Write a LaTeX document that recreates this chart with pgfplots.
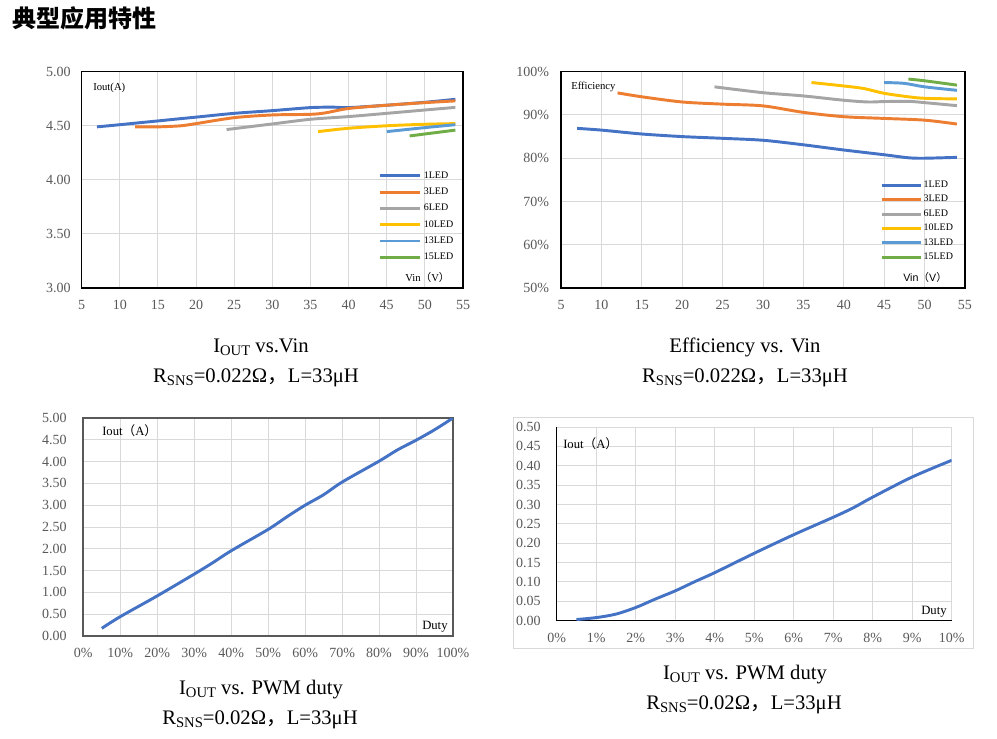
\documentclass[border=0pt]{standalone}
\usepackage{fontspec}
\setmainfont{Liberation Serif}
\newfontfamily\cjk{Noto Sans CJK SC}
\newfontfamily\sans{Liberation Sans}
\usepackage{pgfplots}
\pgfplotsset{compat=1.18}
\definecolor{cA}{HTML}{4472C4}
\definecolor{cB}{HTML}{ED7D31}
\definecolor{cC}{HTML}{A5A5A5}
\definecolor{cD}{HTML}{FFC000}
\definecolor{cE}{HTML}{5B9BD5}
\definecolor{cF}{HTML}{70AD47}
\definecolor{gridc}{HTML}{D9D9D9}
\definecolor{tickc}{HTML}{595959}
\newcommand{\FS}[1]{\fontsize{#1}{#1}\selectfont}
\newcommand{\sub}[1]{\raisebox{-0.12em}{\FS{11}#1}}
\pgfplotsset{
  base/.style={scale only axis, anchor=north west, major tick length=0pt,
    grid=major, major grid style={color=gridc, line width=0.75pt},
    ticklabel style={font=\FS{10.5}, text=tickc},
    /pgf/number format/assume math mode=true,
    xticklabel style={yshift=-5.8pt},
    every axis plot/.append style={line width=2.2pt, smooth, no markers},
    legend cell align=left},
  y2/.style={yticklabel style={/pgf/number format/fixed, /pgf/number format/fixed zerofill, /pgf/number format/precision=2}},
}
\begin{document}
\begin{tikzpicture}
\path[use as bounding box] (0,0) rectangle (997*0.75pt,-739*0.75pt);
\node[anchor=west, inner sep=0pt, font=\cjk\bfseries\FS{18}] at (12*0.75pt,-18*0.75pt) {典型应用特性};

% Chart 1
\begin{axis}[base, y2, at={(81.7*0.75pt,-71.7*0.75pt)}, width=381.3*0.75pt, height=216.3*0.75pt,
  xmin=5, xmax=55, ymin=3, ymax=5, xtick={5,10,...,55}, ytick={3,3.5,4,4.5,5},
  yticklabel style={xshift=-4.8pt},
  axis line style={black, line width=1.1pt},
  legend style={at={(0.777,0.557)}, anchor=north west, draw=none, fill=none, inner sep=0pt,
    row sep=0pt, column sep=2pt, font=\FS{7.5}, nodes={inner sep=0pt, minimum height=12.2pt}},
  legend image code/.code={\draw[#1] (0pt,0pt) -- (30pt,0pt);}]
\addplot[cA] coordinates {(7,4.49)(10,4.51)(15,4.545)(20,4.58)(25,4.615)(30,4.64)(35,4.668)(38,4.672)(40,4.668)(45,4.69)(50,4.717)(54,4.745)};
\addplot[cB] coordinates {(12,4.49)(15,4.49)(18,4.50)(20,4.52)(25,4.575)(30,4.60)(35,4.606)(37,4.62)(40,4.66)(45,4.69)(50,4.714)(54,4.73)};
\addplot[cC] coordinates {(24,4.465)(30,4.517)(35,4.56)(40,4.585)(45,4.615)(50,4.646)(54,4.67)};
\addplot[cD] coordinates {(36,4.446)(40,4.477)(45,4.50)(50,4.514)(54,4.52)};
\addplot[cE] coordinates {(45,4.446)(50,4.483)(54,4.51)};
\addplot[cF] coordinates {(48,4.406)(54,4.46)};
\legend{1LED,3LED,6LED,10LED,13LED,15LED}
\end{axis}
\node[anchor=west, inner sep=0pt, font=\FS{8}] at (93*0.75pt,-88*0.75pt) {Iout(A)};
\node[anchor=west, inner sep=0pt, font=\FS{8}] at (405*0.75pt,-277*0.75pt) {Vin{\cjk （}V{\cjk ）}};

% Chart 2
\begin{axis}[base, at={(561*0.75pt,-71.7*0.75pt)}, width=404*0.75pt, height=216.3*0.75pt,
  xmin=5, xmax=55, ymin=50, ymax=100, xtick={5,10,...,55}, ytick={50,60,...,100},
  yticklabel={\pgfmathprintnumber{\tick}\%},
  yticklabel style={xshift=-5.5pt},
  axis line style={black, line width=1.1pt},
  legend style={at={(0.79,0.5095)}, anchor=north west, draw=none, fill=none, inner sep=0pt,
    row sep=0pt, column sep=1.2pt, font=\FS{7.5}, nodes={inner sep=0pt, minimum height=10.8pt}},
  legend image code/.code={\draw[#1] (0pt,0pt) -- (29pt,0pt);}]
\addplot[cA] coordinates {(7,86.9)(10,86.5)(15,85.6)(20,85.0)(25,84.6)(30,84.15)(35,83.1)(40,81.9)(45,80.8)(48,80.1)(50,80.0)(54,80.2)};
\addplot[cB] coordinates {(12,95.1)(15,94.2)(20,93.0)(25,92.5)(30,92.1)(35,90.6)(40,89.6)(45,89.2)(50,88.8)(54,87.9)};
\addplot[cC] coordinates {(24,96.5)(30,95.15)(35,94.4)(40,93.4)(43,93.0)(45,93.1)(48,93.15)(50,92.85)(54,92.15)};
\addplot[cD] coordinates {(36,97.5)(40,96.7)(42.5,96.1)(45,95.0)(48,94.2)(50,93.85)(54,93.7)};
\addplot[cE] coordinates {(45,97.5)(47.5,97.3)(50,96.5)(54,95.7)};
\addplot[cF] coordinates {(48,98.3)(50,97.9)(54,96.9)};
\legend{1LED,3LED,6LED,10LED,13LED,15LED}
\end{axis}
\node[anchor=west, inner sep=0pt, font=\FS{8}] at (571*0.75pt,-87*0.75pt) {Efficiency};
\node[anchor=west, inner sep=0pt, font=\sans\FS{8}] at (903*0.75pt,-277.7*0.75pt) {Vin{\cjk （}V{\cjk ）}};

% Chart 3
\begin{axis}[base, y2, at={(83.3*0.75pt,-418*0.75pt)}, width=369.7*0.75pt, height=218*0.75pt,
  xmin=0, xmax=100, ymin=0, ymax=5, xtick={0,10,...,100}, ytick={0,0.5,1,1.5,2,2.5,3,3.5,4,4.5,5},
  xticklabel={\pgfmathprintnumber{\tick}\%},
  yticklabel style={xshift=-9pt},
  axis line style={tickc, line width=1.5pt}]
\addplot[cA] coordinates {(5,0.176)(10,0.444)(20,0.92)(30,1.42)(35,1.68)(40,1.955)(50,2.445)(55,2.73)(60,3.0)(65,3.24)(70,3.53)(80,4.01)(85,4.27)(90,4.49)(95,4.73)(100,5.0)};
\end{axis}
\node[anchor=west, inner sep=0pt, font=\FS{9.5}] at (102*0.75pt,-431*0.75pt) {Iout{\cjk （}A{\cjk ）}};
\node[anchor=west, inner sep=0pt, font=\FS{9.5}] at (422*0.75pt,-627*0.75pt) {Duty};

% Chart 4
\draw[gridc, line width=0.75pt] (513*0.75pt,-417*0.75pt) rectangle (973*0.75pt,-648*0.75pt);
\begin{axis}[base, y2, at={(556.7*0.75pt,-427*0.75pt)}, width=395*0.75pt, height=193.7*0.75pt,
  xmin=0, xmax=10, ymin=0, ymax=0.5, xtick={0,1,...,10}, ytick={0,0.05,0.1,0.15,0.2,0.25,0.3,0.35,0.4,0.45,0.5},
  xticklabel={\pgfmathprintnumber{\tick}\%},
  yticklabel style={xshift=-8.5pt},
  axis x line=bottom, axis y line=left,
  axis line style={black, line width=1.1pt, -}]
\addplot[cA] coordinates {(0.5,0.003)(1,0.008)(1.5,0.017)(2,0.034)(2.5,0.056)(3,0.077)(3.5,0.101)(4,0.124)(5,0.174)(6,0.222)(7,0.267)(7.5,0.291)(8,0.319)(9,0.371)(10,0.414)};
\end{axis}
\node[anchor=west, inner sep=0pt, font=\FS{9.5}] at (563*0.75pt,-444*0.75pt) {Iout{\cjk （}A{\cjk ）}};
\node[anchor=west, inner sep=0pt, font=\FS{9.5}] at (921*0.75pt,-612*0.75pt) {Duty};

% Captions
\node[font=\FS{15.5}, inner sep=0pt] at (261*0.75pt,-347*0.75pt) {I\sub{OUT} vs.Vin};
\node[font=\FS{15.5}, inner sep=0pt] at (256*0.75pt,-378*0.75pt) {R\sub{SNS}=0.022Ω{\cjk ，}L=33μH};
\node[font=\FS{15.5}, inner sep=0pt] at (745*0.75pt,-347*0.75pt) {Efficiency vs. Vin};
\node[font=\FS{15.5}, inner sep=0pt] at (745*0.75pt,-378*0.75pt) {R\sub{SNS}=0.022Ω{\cjk ，}L=33μH};
\node[font=\FS{15.5}, inner sep=0pt] at (261*0.75pt,-690*0.75pt) {I\sub{OUT} vs. PWM duty};
\node[font=\FS{15.5}, inner sep=0pt] at (260*0.75pt,-720*0.75pt) {R\sub{SNS}=0.02Ω{\cjk ，}L=33μH};
\node[font=\FS{15.5}, inner sep=0pt] at (745*0.75pt,-675*0.75pt) {I\sub{OUT} vs. PWM duty};
\node[font=\FS{15.5}, inner sep=0pt] at (744*0.75pt,-705*0.75pt) {R\sub{SNS}=0.02Ω{\cjk ，}L=33μH};
\end{tikzpicture}
\end{document}
